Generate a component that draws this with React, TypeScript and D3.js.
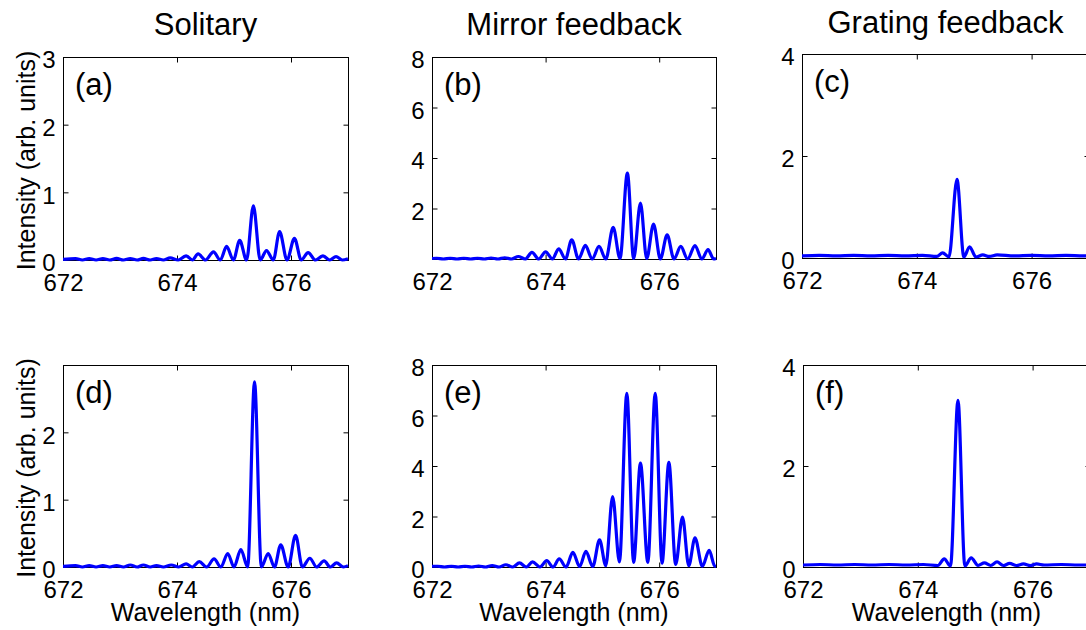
import React, { useEffect, useState } from 'react';
import * as d3 from 'd3';

type Pt = [number, number];

// [wavelength (nm), intensity (arb. units)] read at peaks and the valleys between them
const solitaryTop: Pt[] = [
  [672.0, 0.01], [672.22, 0.02], [672.34, 0.0], [672.46, 0.02], [672.58, 0.0], [672.7, 0.02],
  [672.82, 0.0], [672.94, 0.025], [673.06, 0.0], [673.18, 0.02], [673.3, 0.0], [673.41, 0.025],
  [673.53, 0.0], [673.64, 0.02], [673.76, 0.0], [673.88, 0.03], [674.02, 0.0], [674.16, 0.06],
  [674.27, 0.0], [674.37, 0.09], [674.5, 0.0], [674.64, 0.12], [674.76, 0.0], [674.87, 0.2],
  [674.99, 0.0], [675.1, 0.29], [675.22, 0.0], [675.34, 0.8], [675.46, 0.0], [675.57, 0.14],
  [675.69, 0.0], [675.8, 0.42], [675.93, 0.0], [676.06, 0.32], [676.18, 0.0], [676.3, 0.11],
  [676.43, 0.0], [676.56, 0.06], [676.68, 0.0], [676.79, 0.05], [676.9, 0.0], [677.0, 0.02],
];

const mirrorTop: Pt[] = [
  [672.0, 0.02], [672.08, 0.03], [672.2, 0.0], [672.32, 0.03], [672.44, 0.0], [672.56, 0.03],
  [672.68, 0.0], [672.8, 0.03], [672.92, 0.0], [673.04, 0.04], [673.16, 0.0], [673.28, 0.05],
  [673.4, 0.0], [673.52, 0.1], [673.64, 0.0], [673.76, 0.26], [673.88, 0.0], [674.0, 0.28],
  [674.12, 0.0], [674.23, 0.4], [674.35, 0.0], [674.46, 0.76], [674.58, 0.0], [674.7, 0.54],
  [674.82, 0.0], [674.94, 0.5], [675.06, 0.0], [675.19, 1.25], [675.31, 0.02], [675.44, 3.4],
  [675.55, 0.02], [675.67, 2.21], [675.78, 0.02], [675.9, 1.38], [676.02, 0.0], [676.14, 0.96],
  [676.26, 0.0], [676.38, 0.5], [676.5, 0.0], [676.63, 0.53], [676.75, 0.0], [676.86, 0.37],
  [676.96, 0.0], [677.0, 0.02],
];

const gratingTop: Pt[] = [
  [672.0, 0.04], [672.3, 0.05], [672.6, 0.04], [672.9, 0.05], [673.2, 0.04], [673.5, 0.05],
  [673.8, 0.04], [674.1, 0.05], [674.35, 0.03], [674.45, 0.1], [674.56, 0.02], [674.7, 1.54],
  [674.82, 0.02], [674.92, 0.22], [675.03, 0.02], [675.15, 0.06], [675.26, 0.03], [675.4, 0.06],
  [675.7, 0.04], [676.0, 0.05], [676.3, 0.04], [676.6, 0.05], [676.9, 0.04], [677.0, 0.04],
];

const solitaryBottom: Pt[] = [
  [672.0, 0.01], [672.22, 0.02], [672.34, 0.0], [672.46, 0.02], [672.58, 0.0], [672.7, 0.02],
  [672.82, 0.0], [672.94, 0.02], [673.06, 0.0], [673.18, 0.03], [673.3, 0.0], [673.41, 0.03],
  [673.53, 0.0], [673.64, 0.02], [673.76, 0.0], [673.9, 0.03], [674.03, 0.0], [674.16, 0.045],
  [674.27, 0.0], [674.39, 0.08], [674.52, 0.0], [674.65, 0.12], [674.77, 0.0], [674.89, 0.2],
  [675.0, 0.0], [675.12, 0.26], [675.24, 0.0], [675.36, 2.75], [675.48, 0.0], [675.6, 0.2],
  [675.71, 0.0], [675.82, 0.33], [675.95, 0.0], [676.08, 0.47], [676.2, 0.0], [676.33, 0.13],
  [676.45, 0.0], [676.58, 0.09], [676.69, 0.0], [676.8, 0.06], [676.92, 0.0], [677.0, 0.02],
];

const mirrorBottom: Pt[] = [
  [672.0, 0.03], [672.1, 0.03], [672.22, 0.0], [672.34, 0.03], [672.46, 0.0], [672.58, 0.03],
  [672.7, 0.0], [672.82, 0.04], [672.94, 0.0], [673.06, 0.06], [673.18, 0.0], [673.3, 0.09],
  [673.42, 0.0], [673.54, 0.16], [673.66, 0.0], [673.77, 0.2], [673.9, 0.0], [674.02, 0.25],
  [674.13, 0.0], [674.24, 0.32], [674.36, 0.0], [674.48, 0.58], [674.6, 0.02], [674.71, 0.62],
  [674.83, 0.02], [674.95, 1.08], [675.06, 0.05], [675.18, 2.79], [675.3, 0.2], [675.43, 6.88],
  [675.55, 0.18], [675.67, 4.11], [675.8, 0.18], [675.93, 6.88], [676.05, 0.15], [676.17, 4.14],
  [676.29, 0.1], [676.41, 1.98], [676.52, 0.05], [676.63, 1.15], [676.76, 0.03], [676.88, 0.66],
  [676.98, 0.03], [677.0, 0.03],
];

const gratingBottom: Pt[] = [
  [672.0, 0.04], [672.3, 0.05], [672.6, 0.04], [672.9, 0.05], [673.2, 0.04], [673.5, 0.05],
  [673.8, 0.04], [674.1, 0.05], [674.35, 0.03], [674.46, 0.16], [674.57, 0.02], [674.7, 3.3],
  [674.82, 0.02], [674.93, 0.18], [675.05, 0.03], [675.16, 0.08], [675.27, 0.03], [675.38, 0.1],
  [675.49, 0.03], [675.6, 0.07], [675.72, 0.03], [675.84, 0.06], [675.96, 0.03], [676.07, 0.06],
  [676.2, 0.04], [676.5, 0.05], [676.8, 0.04], [677.0, 0.04],
];

const columnTitles = ['Solitary', 'Mirror feedback', 'Grating feedback'];
const panelLetters = ['(a)', '(b)', '(c)', '(d)', '(e)', '(f)'];
const xDomain: [number, number] = [672, 677];
const xTicks = [672, 674, 676];
const yMaxes = [3, 8, 4, 3, 8, 4];
const yTicks = [[0, 1, 2, 3], [2, 4, 6, 8], [0, 2, 4], [0, 1, 2], [0, 2, 4, 6, 8], [0, 2, 4]];
const spectra = [solitaryTop, mirrorTop, gratingTop, solitaryBottom, mirrorBottom, gratingBottom];

// axes boxes in pixels: left, right, top, bottom
const boxes = [
  [63, 348, 57, 260],
  [432, 716, 57, 259],
  [802, 1089, 54, 258],
  [63, 348, 365, 567],
  [432, 716, 365, 567],
  [803, 1090, 365, 567],
];

const FONT = '"Liberation Sans", Arial, Helvetica, sans-serif';

const App: React.FC = () => {
  const [svgRef, setSvgRef] = useState<SVGSVGElement | null>(null);

  useEffect(() => {
    if (!svgRef) return;
    const svg = d3.select(svgRef);
    svg.selectAll('*').remove();

    boxes.forEach(([left, right, top, bottom], i) => {
      const x = d3.scaleLinear().domain(xDomain).range([left, right]);
      const y = d3.scaleLinear().domain([0, yMaxes[i]]).range([bottom, top]);
      const g = svg.append('g');

      // box
      g.append('rect')
        .attr('x', left + 0.5)
        .attr('y', top + 0.5)
        .attr('width', right - left)
        .attr('height', bottom - top)
        .attr('fill', 'none')
        .attr('stroke', '#000')
        .attr('stroke-width', 1);

      const styleAxis = (sel: d3.Selection<SVGGElement, unknown, null, undefined>) => {
        sel.select('.domain').remove();
        sel.selectAll('line').attr('stroke', '#000');
        sel.attr('font-size', 24).attr('font-family', FONT);
        sel.selectAll('text').attr('fill', '#000');
      };

      g.append('g')
        .attr('transform', `translate(0,${bottom + 0.5})`)
        .call(d3.axisBottom(x).tickValues(xTicks).tickSize(-5).tickPadding(13).tickFormat(d3.format('d')))
        .call(styleAxis);
      g.append('g')
        .attr('transform', `translate(0,${top + 0.5})`)
        .call(d3.axisTop(x).tickValues(xTicks).tickSize(-5).tickFormat(() => ''))
        .call(styleAxis);
      g.append('g')
        .attr('transform', `translate(${left + 0.5},0)`)
        .call(d3.axisLeft(y).tickValues(yTicks[i]).tickSize(-5).tickPadding(8).tickFormat(d3.format('d')))
        .call(styleAxis)
        .selectAll('text')
        .attr('dy', '0.45em');
      g.append('g')
        .attr('transform', `translate(${right + 0.5},0)`)
        .call(d3.axisRight(y).tickValues(yTicks[i]).tickSize(-5).tickFormat(() => ''))
        .call(styleAxis);

      // spectrum
      const clipId = `clip-${i}`;
      svg.append('clipPath')
        .attr('id', clipId)
        .append('rect')
        .attr('x', left)
        .attr('y', top - 4)
        .attr('width', right - left + 1)
        .attr('height', bottom - top + 8);

      const line = d3.line<Pt>()
        .x(d => x(d[0]))
        .y(d => y(d[1]))
        .curve(d3.curveMonotoneX);

      g.append('path')
        .datum(spectra[i])
        .attr('clip-path', `url(#${clipId})`)
        .attr('d', line)
        .attr('fill', 'none')
        .attr('stroke', '#0000ff')
        .attr('stroke-width', 3.2)
        .attr('stroke-linejoin', 'round');

      // panel letter
      g.append('text')
        .attr('x', left + 12)
        .attr('y', top + 38)
        .attr('font-size', 31)
        .attr('font-family', FONT)
        .text(panelLetters[i]);

      // column titles on the top row
      if (i < 3) {
        g.append('text')
          .attr('x', (left + right) / 2)
          .attr('y', i === 2 ? 33 : 35)
          .attr('text-anchor', 'middle')
          .attr('font-size', 31)
          .attr('font-family', FONT)
          .text(columnTitles[i]);
      } else {
        g.append('text')
          .attr('x', (left + right) / 2)
          .attr('y', 621)
          .attr('text-anchor', 'middle')
          .attr('font-size', 25)
          .attr('font-family', FONT)
          .text('Wavelength (nm)');
      }

      // y label on the left column
      if (i === 0 || i === 3) {
        g.append('text')
          .attr('transform', `translate(35,${(top + bottom) / 2 + 2}) rotate(-90)`)
          .attr('text-anchor', 'middle')
          .attr('font-size', 25)
          .attr('font-family', FONT)
          .text('Intensity (arb. units)');
      }
    });
  }, [svgRef]);

  return (
    <svg
      ref={setSvgRef}
      width={1086}
      height={630}
      style={{ position: 'absolute', left: 0, top: 0, background: '#fff' }}
    />
  );
};

export default App;
